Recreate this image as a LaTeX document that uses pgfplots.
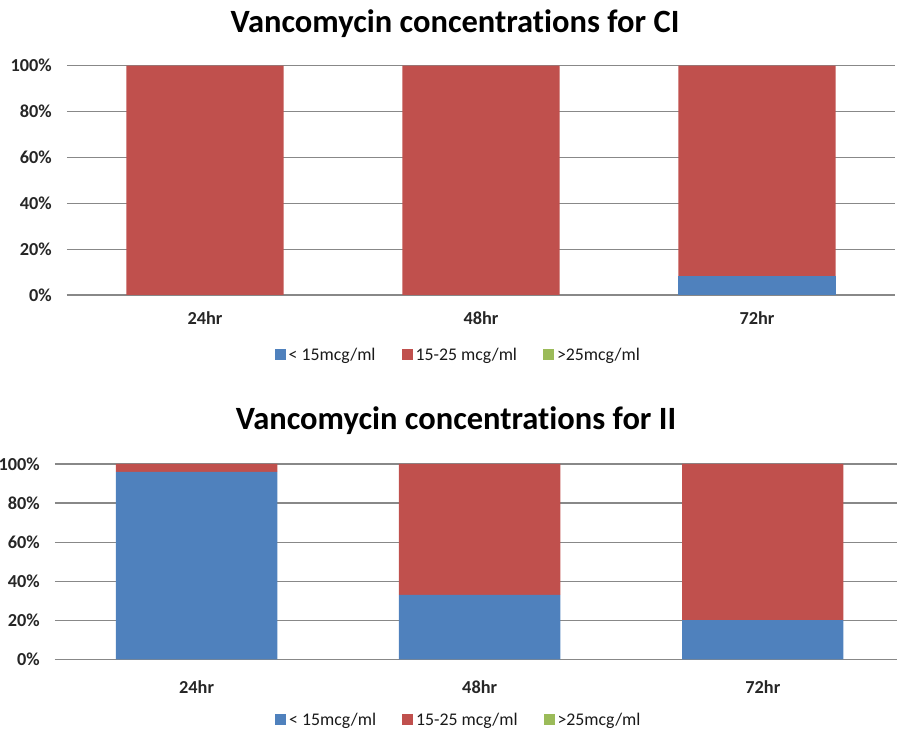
\documentclass[border=0pt]{standalone}
\usepackage{pgfplots}
\pgfplotsset{compat=1.18}
\usepackage{fontspec}
\setmainfont{Carlito}[Ligatures={NoCommon}]
\definecolor{cblue}{HTML}{4F81BD}
\definecolor{cred}{HTML}{C0504D}
\definecolor{cgreen}{HTML}{9BBB59}
\definecolor{cgrid}{HTML}{888888}
\pgfplotsset{
  vanc/.style={
    scale only axis, ybar stacked, bar width=0.57,
    ymin=0, ymax=100, xmin=-0.5, enlargelimits=false,
    xtick={0,1,2}, xticklabels={24hr,48hr,72hr},
    ytick={0,20,40,60,80,100},
    yticklabels={0\%,20\%,40\%,60\%,80\%,100\%},
    ymajorgrids, grid style={cgrid, line width=1.2pt},
    axis lines=left,
    y axis line style={draw=none},
    x axis line style={cgrid, line width=1.2pt, -},
    major tick length=0pt,
    tick style={draw=none},
    ticklabel style={font=\fontsize{18.3}{18.3}\selectfont\bfseries, text=black!85},
    yticklabel style={inner sep=0pt, anchor=east, xshift=-15pt},
    xticklabel style={inner sep=0pt, anchor=north},
    legend columns=3,
    legend image code/.code={\fill[##1,draw=none] (0pt,-5pt) rectangle (11pt,6pt);},
    legend style={draw=none, fill=none, anchor=center,
      font=\fontsize{17.8}{17.8}\selectfont, text=black!90,
      nodes={inner sep=1pt},
      /tikz/every odd column/.append style={column sep=2pt},
      /tikz/every even column/.append style={column sep=25pt}},
  }
}
\begin{document}
\begin{tikzpicture}
\useasboundingbox (0,0) rectangle (897pt,733pt);
% titles
\node[font=\fontsize{32.5}{32.5}\selectfont\bfseries] at (455pt,709pt) {Vancomycin concentrations for CI};
\node[font=\fontsize{32.5}{32.5}\selectfont\bfseries] at (456pt,312pt) {Vancomycin concentrations for II};
% top chart
\begin{axis}[vanc, at={(67pt,438pt)}, anchor=south west,
  width=828pt, height=229.3pt, xmax=2.5,
  xticklabel style={yshift=-16pt},
  legend style={at={(0.472,-0.262)}}]
\addplot[fill=cblue, draw=none] coordinates {(0,0) (1,0) (2,8.3)};
\addplot[fill=cred, draw=none] coordinates {(0,100) (1,100) (2,91.7)};
\addplot[fill=cgreen, draw=none] coordinates {(0,0) (1,0) (2,0)};
\legend{{< 15mcg/ml},{15-25 mcg/ml},{>25mcg/ml}}
\end{axis}
% bottom chart
\begin{axis}[vanc, at={(55pt,73.7pt)}, anchor=south west,
  width=842pt, height=195.3pt, xmax=2.474,
  xticklabel style={yshift=-21pt},
  legend style={at={(0.479,-0.311)}}]
\addplot[fill=cblue, draw=none] coordinates {(0,96) (1,33) (2,20)};
\addplot[fill=cred, draw=none] coordinates {(0,4) (1,67) (2,80)};
\addplot[fill=cgreen, draw=none] coordinates {(0,0) (1,0) (2,0)};
\legend{{< 15mcg/ml},{15-25 mcg/ml},{>25mcg/ml}}
\end{axis}
\end{tikzpicture}
\end{document}
